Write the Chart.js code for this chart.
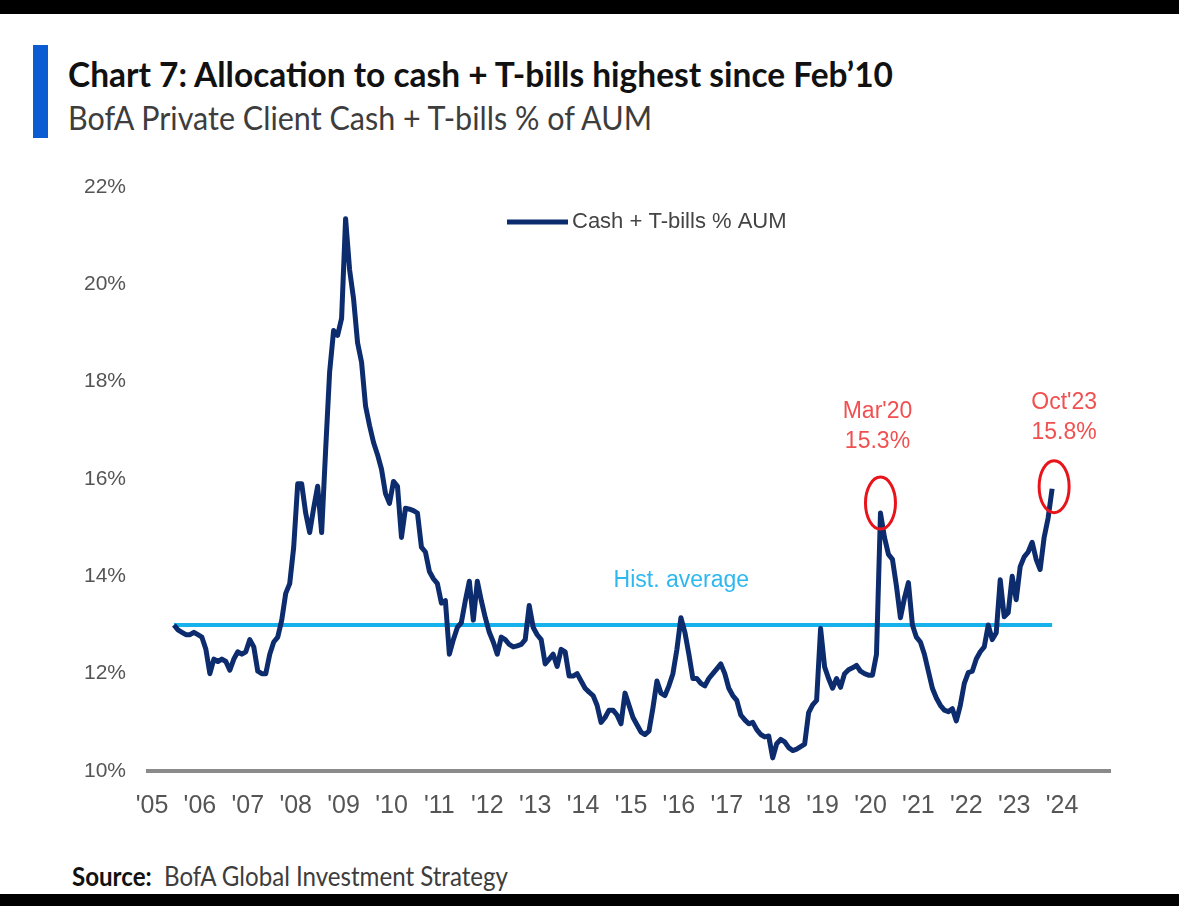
<!DOCTYPE html>
<html>
<head>
<meta charset="utf-8">
<title>Chart 7: Allocation to cash + T-bills</title>
<script src="https://cdn.jsdelivr.net/npm/chart.js@4.4.1/dist/chart.umd.min.js"></script>
<style>
  html, body { margin: 0; padding: 0; background: #fff; }
  body { width: 1179px; height: 906px; position: relative; overflow: hidden;
         font-family: Lato, "Liberation Sans", sans-serif; }
  .band { position: absolute; left: 0; width: 1179px; background: #000; }
  .accent { position: absolute; left: 33px; top: 45px; width: 15px; height: 93px; background: #0b5bd3; }
  .fit { position: absolute; white-space: nowrap; transform-origin: 0 0; }
  #title { left: 68px; top: 56px; font-size: 35px; line-height: 35px; font-weight: bold; color: #111; }
  #subtitle { left: 68px; top: 102px; font-size: 32px; line-height: 32px; color: #3d3d3d; }
  #source { left: 72px; top: 863px; font-size: 26px; line-height: 26px; color: #3d3d3d; }
  #source b { color: #111; }
  canvas { position: absolute; left: 0; top: 0; }
</style>
</head>
<body>
<div class="band" style="top:0;height:14px"></div>
<div class="band" style="top:894px;height:12px"></div>
<div class="accent"></div>
<div id="title" class="fit" data-w="825">Chart 7: Allocation to cash + T-bills highest since Feb’10</div>
<div id="subtitle" class="fit" data-w="584">BofA Private Client Cash + T-bills % of AUM</div>
<div id="source" class="fit" data-w="436"><b>Source:</b>&nbsp; BofA Global Investment Strategy</div>
<canvas id="chart" width="1179" height="906"></canvas>

<script>
// series starts Jun 2005, one value per month
const startYear = 2005;
const startMonth = 6;

const cashPct = [
  13.0, 12.9, 12.85, 12.8, 12.8, 12.85, 12.8,                                  // 2005 Jun-Dec
  12.75, 12.5, 12.0, 12.3, 12.25, 12.3, 12.25, 12.07, 12.3, 12.45, 12.4, 12.45,  // 2006
  12.7, 12.55, 12.05, 12.0, 12.0, 12.4, 12.65, 12.75, 13.1, 13.65, 13.85, 14.6,  // 2007
  15.9, 15.9, 15.3, 14.9, 15.4, 15.85, 14.9, 16.6, 18.2, 19.05, 18.95, 19.3,     // 2008
  21.35, 20.3, 19.7, 18.8, 18.4, 17.5, 17.1, 16.75, 16.5, 16.2, 15.7, 15.5,      // 2009
  15.95, 15.85, 14.8, 15.4, 15.38, 15.35, 15.3, 14.6, 14.5, 14.1, 13.95, 13.85,  // 2010
  13.45, 13.5, 12.4, 12.7, 12.95, 13.05, 13.5, 13.9, 13.1, 13.9, 13.5, 13.15,    // 2011
  12.85, 12.65, 12.4, 12.75, 12.7, 12.6, 12.55, 12.57, 12.6, 12.7, 13.4, 12.95,  // 2012
  12.8, 12.7, 12.2, 12.3, 12.4, 12.15, 12.5, 12.45, 11.95, 11.95, 12.0, 11.85,   // 2013
  11.7, 11.62, 11.55, 11.35, 11.0, 11.1, 11.25, 11.25, 11.15, 10.97, 11.6, 11.35, // 2014
  11.1, 10.95, 10.8, 10.75, 10.82, 11.3, 11.85, 11.6, 11.55, 11.75, 12.0, 12.5,  // 2015
  13.15, 12.85, 12.4, 11.9, 11.9, 11.8, 11.75, 11.9, 12.0, 12.1, 12.2, 12.0,     // 2016
  11.7, 11.55, 11.45, 11.15, 11.05, 10.97, 11.0, 10.85, 10.75, 10.7, 10.72, 10.27, // 2017
  10.56, 10.65, 10.6, 10.48, 10.42, 10.45, 10.5, 10.55, 11.2, 11.36, 11.45, 12.93, // 2018
  12.14, 11.9, 11.7, 11.9, 11.72, 12.0, 12.08, 12.12, 12.17, 12.05, 12.0, 11.97, // 2019
  11.97, 12.4, 15.3, 14.8, 14.45, 14.35, 13.8, 13.15, 13.55, 13.87, 13.0, 12.75, // 2020
  12.65, 12.4, 12.05, 11.7, 11.5, 11.35, 11.25, 11.22, 11.28, 11.03, 11.35, 11.8, // 2021
  12.02, 12.05, 12.3, 12.45, 12.55, 13.0, 12.7, 12.84, 13.93, 13.17, 13.25, 14.0, // 2022
  13.52, 14.2, 14.4, 14.5, 14.7, 14.35, 14.14, 14.8, 15.2, 15.8                 // 2023 Jan-Oct
];

const histAverage = 13.0;

const tickYears = [2005, 2006, 2007, 2008, 2009, 2010, 2011, 2012, 2013, 2014,
                   2015, 2016, 2017, 2018, 2019, 2020, 2021, 2022, 2023, 2024];
const tickLabels = ["'05", "'06", "'07", "'08", "'09", "'10", "'11", "'12", "'13", "'14",
                    "'15", "'16", "'17", "'18", "'19", "'20", "'21", "'22", "'23", "'24"];
const yTicks = [10, 12, 14, 16, 18, 20, 22];

const callouts = [
  { month: "2020-03", text: ["Mar'20", "15.3%"] },
  { month: "2023-10", text: ["Oct'23", "15.8%"] }
];

// squeeze the header/footer lines to the widths they have in the original
document.querySelectorAll(".fit").forEach(el => {
  const w = el.getBoundingClientRect().width;
  el.style.transform = "scaleX(" + (+el.dataset.w / w) + ")";
});

// month keys and decimal-year positions (middle of each month)
const monthKeys = [];
const points = cashPct.map((v, i) => {
  const n = startMonth - 1 + i;
  const yr = startYear + Math.floor(n / 12);
  const mo = n % 12 + 1;
  monthKeys.push(yr + "-" + String(mo).padStart(2, "0"));
  return { x: yr + (mo - 0.5) / 12, y: v };
});

const avgLine = [
  { x: points[0].x, y: histAverage },
  { x: points[points.length - 1].x, y: histAverage }
];

const NAVY = "#0c2c6e";
const SKY = "#17b1ec";
const FONT = "'Liberation Sans', Arial, sans-serif";

// legend drawn inside the plot, top centre
const legendPlugin = {
  id: "innerLegend",
  afterDraw(chart) {
    const ctx = chart.ctx;
    const ds = chart.data.datasets[0];
    const top = chart.chartArea.top + 35;
    ctx.save();
    ctx.strokeStyle = ds.borderColor;
    ctx.lineWidth = 5;
    ctx.beginPath();
    ctx.moveTo(507, top);
    ctx.lineTo(568, top);
    ctx.stroke();
    ctx.fillStyle = "#444";
    ctx.font = "22px " + FONT;
    ctx.textBaseline = "middle";
    ctx.fillText(ds.label, 572, top);
    ctx.restore();
  }
};

// red circles + labels, and the hist. average label
const notesPlugin = {
  id: "notes",
  afterDatasetsDraw(chart) {
    const { ctx, scales: { x, y } } = chart;
    ctx.save();
    ctx.textAlign = "center";
    ctx.textBaseline = "middle";

    ctx.fillStyle = "#2fb8f0";
    ctx.font = "23px " + FONT;
    ctx.fillText("Hist. average", x.getPixelForValue(2016.05), y.getPixelForValue(histAverage) - 44);

    const offs = [{ dx: 0, dy: -10, tx: -3, ty: -101 }, { dx: 2, dy: -2, tx: 12, ty: -86 }];
    callouts.forEach((c, k) => {
      const p = points[monthKeys.indexOf(c.month)];
      const px = x.getPixelForValue(p.x);
      const py = y.getPixelForValue(p.y);
      const o = offs[k];
      ctx.strokeStyle = "#e8141c";
      ctx.lineWidth = 3;
      ctx.beginPath();
      ctx.ellipse(px + o.dx, py + o.dy, 15, 26, 0, 0, Math.PI * 2);
      ctx.stroke();
      ctx.fillStyle = "#f05050";
      ctx.font = "23px " + FONT;
      c.text.forEach((t, j) => ctx.fillText(t, px + o.tx, py + o.ty + j * 30));
    });
    ctx.restore();
  }
};

new Chart(document.getElementById("chart"), {
  type: "line",
  data: {
    datasets: [
      {
        label: "Cash + T-bills % AUM",
        data: points,
        borderColor: NAVY,
        borderWidth: 5,
        borderJoinStyle: "round",
        pointRadius: 0,
        tension: 0
      },
      {
        label: "Hist. average",
        data: avgLine,
        borderColor: SKY,
        borderWidth: 4,
        pointRadius: 0
      }
    ]
  },
  options: {
    responsive: false,
    animation: false,
    layout: { padding: { left: 0, right: 69, top: 187, bottom: 75 } },
    plugins: { legend: { display: false }, tooltip: { enabled: false } },
    scales: {
      x: {
        type: "linear",
        min: 2004.9165,
        max: 2025,
        afterFit: s => { s.height = 60; },
        afterBuildTicks: s => { s.ticks = tickYears.map(v => ({ value: v })); },
        grid: { display: false, drawTicks: false },
        border: { display: true, color: "#8a8a8a", width: 4 },
        ticks: {
          autoSkip: false,
          maxRotation: 0,
          padding: 20,
          color: "#555",
          font: { family: FONT, size: 25 },
          callback: (v, i) => tickLabels[i]
        }
      },
      y: {
        min: 10,
        max: 22,
        afterFit: s => { s.width = 148; },
        afterBuildTicks: s => { s.ticks = yTicks.map(v => ({ value: v })); },
        grid: { display: false, drawTicks: false },
        border: { display: false },
        ticks: {
          padding: 22,
          color: "#555",
          font: { family: FONT, size: 21 },
          callback: v => v + "%"
        }
      }
    }
  },
  plugins: [legendPlugin, notesPlugin]
});
</script>
</body>
</html>
